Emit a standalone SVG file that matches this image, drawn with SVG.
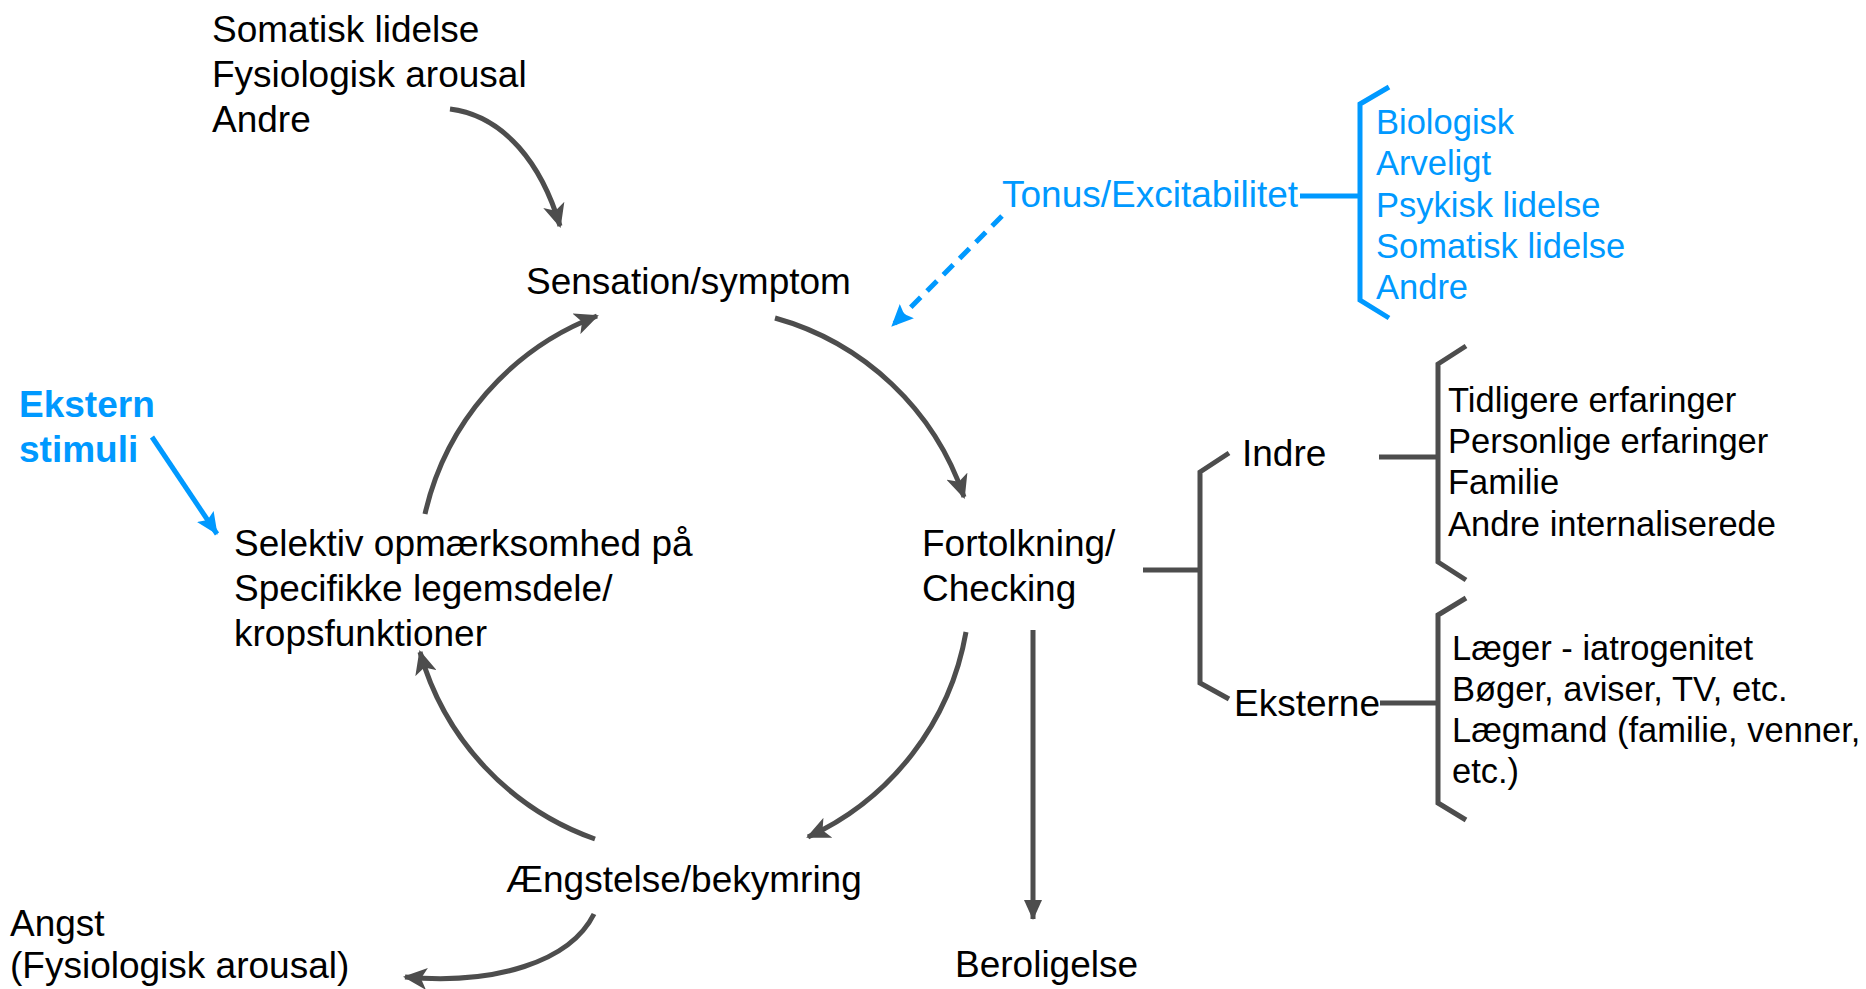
<svg xmlns="http://www.w3.org/2000/svg" width="1866" height="989" viewBox="0 0 1866 989">
<defs>
<style>
text{font-family:"Liberation Sans",Arial,sans-serif;fill:#000}
.m{font-size:37px}
.l{font-size:34.5px}
.b{fill:#0099ff}
.bold{font-weight:bold}
.g{fill:none;stroke:#4d4d4d;stroke-width:5}
.gb{fill:none;stroke:#4d4d4d;stroke-width:5;stroke-linejoin:miter}
.bl{fill:none;stroke:#0099ff;stroke-width:5}
</style>
<marker id="ah" viewBox="0 0 24 22" refX="22" refY="11" markerWidth="24" markerHeight="22" markerUnits="userSpaceOnUse" orient="auto">
<path d="M0,0 L24,11 L0,22 L6,11 z" fill="#4d4d4d"/>
</marker>
<marker id="tri" viewBox="0 0 20 18" refX="19" refY="9" markerWidth="20" markerHeight="18" markerUnits="userSpaceOnUse" orient="auto">
<path d="M0,0 L20,9 L0,18 z" fill="#4d4d4d"/>
</marker>
<marker id="bah" viewBox="0 0 22 20" refX="21" refY="10" markerWidth="22" markerHeight="20" markerUnits="userSpaceOnUse" orient="auto">
<path d="M0,0 L22,10 L0,20 L4,10 z" fill="#0099ff"/>
</marker>
</defs>

<g id="connectors">
<path class="g" d="M450,109 C505,116 542,165 560,226" marker-end="url(#ah)"/>
<path class="g" d="M425,514 A278,278 0 0 1 597,316" marker-end="url(#ah)"/>
<path class="g" d="M775,318 A278,278 0 0 1 964,497" marker-end="url(#ah)"/>
<path class="g" d="M966,632 A278,278 0 0 1 808,837" marker-end="url(#ah)"/>
<path class="g" d="M595,839 A278,278 0 0 1 420,652" marker-end="url(#ah)"/>
<path class="g" d="M594,914 C570,962 495,985 405,977" marker-end="url(#ah)"/>
<path class="g" d="M1033,630 L1033,919" marker-end="url(#tri)"/>
<path class="bl" stroke-width="4" d="M152,437 L217,534" marker-end="url(#bah)"/>
<path class="bl" stroke-width="4" stroke-dasharray="14 9" d="M1002,216 L892,326" marker-end="url(#bah)"/>
</g>

<g id="n-top">
<text class="m" x="212" y="42">Somatisk lidelse</text>
<text class="m" x="212" y="87">Fysiologisk arousal</text>
<text class="m" x="212" y="132">Andre</text>
</g>

<g id="n-sensation"><text class="m" x="526" y="294">Sensation/symptom</text></g>

<g id="n-tonus">
<text class="m b" x="1002" y="207">Tonus/Excitabilitet</text>
<path class="bl" d="M1300,196 L1360,196"/>
<path class="bl" d="M1389,87 L1360,104 L1360,300 L1389,318"/>
<text class="l b" x="1376" y="134">Biologisk</text>
<text class="l b" x="1376" y="175">Arveligt</text>
<text class="l b" x="1376" y="217">Psykisk lidelse</text>
<text class="l b" x="1376" y="258">Somatisk lidelse</text>
<text class="l b" x="1376" y="299">Andre</text>
</g>

<g id="n-ekstern">
<text class="m b bold" x="19" y="417">Ekstern</text>
<text class="m b bold" x="19" y="462">stimuli</text>
</g>

<g id="n-selektiv">
<text class="m" x="234" y="556">Selektiv opmærksomhed på</text>
<text class="m" x="234" y="601">Specifikke legemsdele/</text>
<text class="m" x="234" y="646">kropsfunktioner</text>
</g>

<g id="n-fortolkning">
<text class="m" x="922" y="556">Fortolkning/</text>
<text class="m" x="922" y="601">Checking</text>
</g>

<g id="n-tree">
<path class="gb" d="M1143,570 L1200,570"/>
<path class="gb" d="M1229,453 L1200,472 L1200,683 L1229,699"/>
<text class="m" x="1242" y="466">Indre</text>
<path class="gb" d="M1379,457 L1438,457"/>
<path class="gb" d="M1466,346 L1438,364 L1438,562 L1466,580"/>
<text class="l" x="1448" y="412">Tidligere erfaringer</text>
<text class="l" x="1448" y="453">Personlige erfaringer</text>
<text class="l" x="1448" y="494">Familie</text>
<text class="l" x="1448" y="536">Andre internaliserede</text>
<text class="m" x="1234" y="716">Eksterne</text>
<path class="gb" d="M1380,703 L1438,703"/>
<path class="gb" d="M1466,598 L1438,615 L1438,803 L1466,820"/>
<text class="l" x="1452" y="660">Læger - iatrogenitet</text>
<text class="l" x="1452" y="701">Bøger, aviser, TV, etc.</text>
<text class="l" x="1452" y="742">Lægmand (familie, venner,</text>
<text class="l" x="1452" y="783">etc.)</text>
</g>

<g id="n-aengstelse"><text class="m" x="506" y="892">Ængstelse/bekymring</text></g>

<g id="n-angst">
<text class="m" x="10" y="936">Angst</text>
<text class="m" x="10" y="978">(Fysiologisk arousal)</text>
</g>

<g id="n-beroligelse"><text class="m" x="955" y="977">Beroligelse</text></g>
</svg>
